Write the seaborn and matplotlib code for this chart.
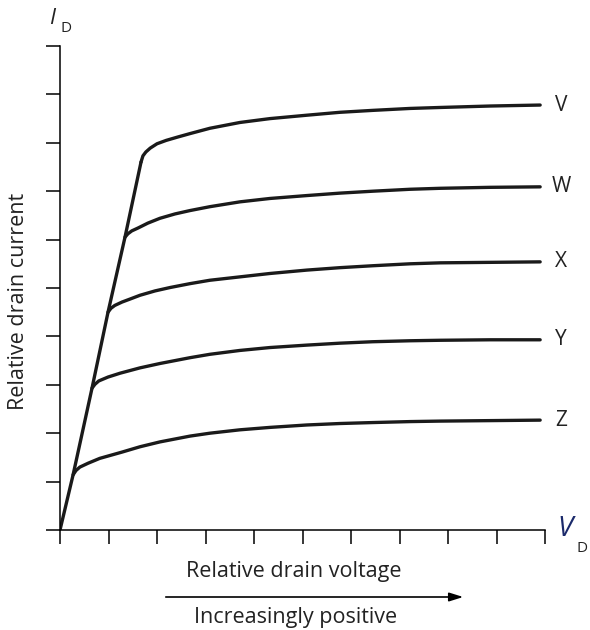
import matplotlib
matplotlib.use("Agg")
import matplotlib.pyplot as plt
import seaborn as sns
import pandas as pd

# Drain characteristics (relative units)
slope_x = [0.0, 0.27, 0.66, 0.99, 1.34, 1.67]
slope_y = [0.0, 1.14, 2.93, 4.50, 6.05, 7.60]

v_x = [1.67, 1.71, 1.77, 1.86, 2.00, 2.19, 2.43, 2.68, 3.09, 3.71, 4.33, 5.09, 5.77, 6.45, 7.22, 7.84, 8.87, 9.90]
v_y = [7.60, 7.73, 7.81, 7.89, 7.98, 8.05, 8.12, 8.19, 8.30, 8.42, 8.50, 8.57, 8.63, 8.67, 8.71, 8.73, 8.76, 8.78]

w_x = [1.34, 1.40, 1.48, 1.61, 1.81, 2.06, 2.37, 2.68, 3.09, 3.71, 4.33, 5.09, 5.77, 6.45, 7.22, 7.84, 8.87, 9.90]
w_y = [6.05, 6.12, 6.18, 6.24, 6.34, 6.44, 6.53, 6.60, 6.68, 6.78, 6.85, 6.91, 6.96, 7.00, 7.04, 7.06, 7.08, 7.09]

x_x = [0.99, 1.05, 1.13, 1.28, 1.44, 1.65, 1.96, 2.27, 2.68, 3.09, 3.71, 4.33, 5.09, 5.77, 6.45, 7.22, 7.84, 8.87, 9.90]
x_y = [4.50, 4.58, 4.64, 4.71, 4.77, 4.85, 4.94, 5.01, 5.09, 5.16, 5.23, 5.30, 5.37, 5.42, 5.46, 5.50, 5.52, 5.53, 5.54]

y_x = [0.66, 0.72, 0.80, 0.99, 1.24, 1.65, 2.06, 2.68, 3.09, 3.71, 4.33, 5.09, 5.77, 6.45, 7.22, 7.84, 8.87, 9.90]
y_y = [2.93, 3.01, 3.08, 3.16, 3.24, 3.35, 3.44, 3.56, 3.63, 3.71, 3.77, 3.82, 3.86, 3.89, 3.91, 3.92, 3.93, 3.93]

z_x = [0.27, 0.33, 0.41, 0.58, 0.82, 1.28, 1.65, 2.06, 2.68, 3.09, 3.71, 4.33, 5.09, 5.77, 6.45, 7.22, 7.84, 8.87, 9.90]
z_y = [1.14, 1.23, 1.30, 1.38, 1.48, 1.61, 1.72, 1.82, 1.94, 2.00, 2.07, 2.12, 2.17, 2.20, 2.22, 2.24, 2.25, 2.26, 2.27]

curve_names = ["V", "W", "X", "Y", "Z"]
tick_pos = list(range(11))

# table longue pour seaborn
frames = [pd.DataFrame({"vd": slope_x, "id": slope_y, "curve": "slope"})]
for name, xs, ys in zip(curve_names, [v_x, w_x, x_x, y_x, z_x], [v_y, w_y, x_y, y_y, z_y]):
    frames.append(pd.DataFrame({"vd": xs, "id": ys, "curve": name}))
df = pd.concat(frames, ignore_index=True)

sns.set_theme(style="white")
plt.rcParams['font.family'] = ['Open Sans', 'DejaVu Sans']

fig = plt.figure(figsize=(5.9, 6.3), dpi=100)
ax = fig.add_axes([60 / 590, 100 / 630, 485 / 590, 484 / 630])

sns.lineplot(data=df, x="vd", y="id", units="curve", estimator=None, sort=False,
             color="#1a1a1a", lw=2.4, ax=ax, solid_joinstyle="round", solid_capstyle="round")

ax.set_xlim(0, 10)
ax.set_ylim(0, 10)
ax.set_xticks(tick_pos)
ax.set_yticks(tick_pos)
ax.tick_params(bottom=True, left=True, direction="out", length=10, width=1.1,
               color="black", labelbottom=False, labelleft=False)
ax.set_xlabel("")
ax.set_ylabel("")
for s in ["top", "right"]:
    ax.spines[s].set_visible(False)
for s in ["bottom", "left"]:
    ax.spines[s].set_color("black")
    ax.spines[s].set_linewidth(1.1)
ax.set_facecolor("white")

# étiquettes des courbes
for name, ys in zip(curve_names, [v_y, w_y, x_y, y_y, z_y]):
    ax.text(10.33, ys[-1], name, fontsize=15, ha="center", va="center",
            color="#222222", clip_on=False)

def fx(px):
    return px / 590

def fy(py):
    return 1 - py / 630

fig.text(fx(52), fy(19), "I", fontsize=16, style="italic", ha="center", va="center", color="#222222")
fig.text(fx(66), fy(28), "D", fontsize=11, ha="center", va="center", color="#222222")
fig.text(fx(565), fy(529), "V", fontsize=20, style="italic", ha="center", va="center", color="#1b2a6b")
fig.text(fx(582), fy(549), "D", fontsize=11, ha="center", va="center", color="#222222")

fig.text(fx(19), fy(301), "Relative drain current", fontsize=15.5, rotation=90,
         ha="center", va="center", color="#222222")
fig.text(fx(294), fy(572), "Relative drain voltage", fontsize=15.5,
         ha="center", va="center", color="#222222")
fig.text(fx(296), fy(617), "Increasingly positive", fontsize=15.5,
         ha="center", va="center", color="#222222")
ax.annotate("", xy=(fx(466), fy(597)), xytext=(fx(163), fy(597)),
            xycoords="figure fraction", textcoords="figure fraction",
            arrowprops=dict(arrowstyle="-|>,head_length=0.7,head_width=0.22",
                            lw=1.2, color="black"))

fig.savefig("out.png", dpi=100, facecolor="white")
